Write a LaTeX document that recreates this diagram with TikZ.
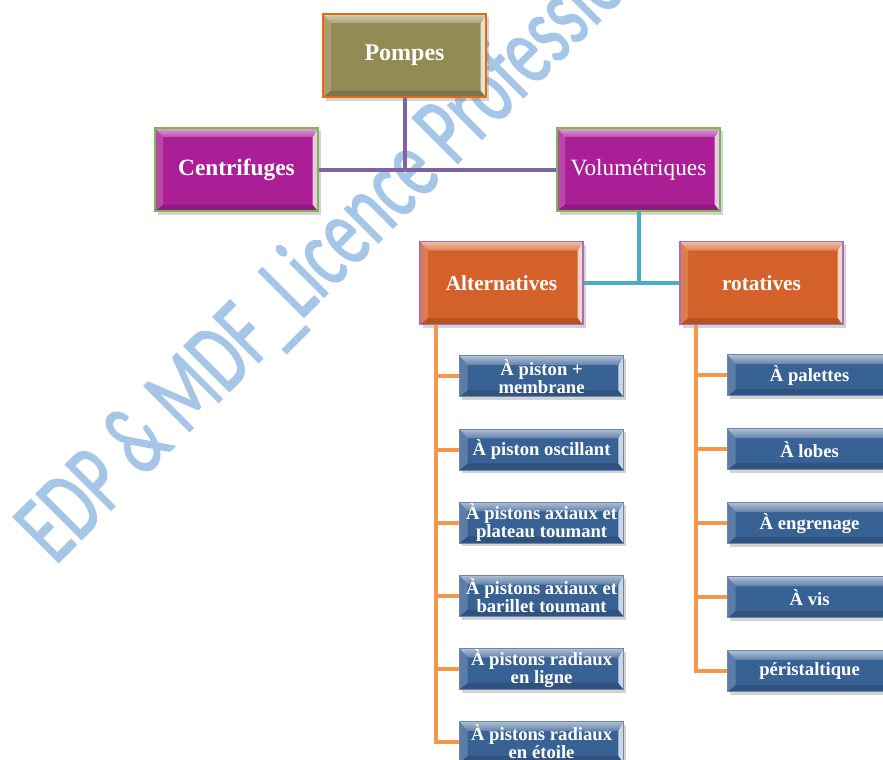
\documentclass[tikz,border=0pt]{standalone}
\usepackage{fontspec}
\setmainfont{Liberation Serif}
\newfontfamily\filigrane[FakeBold=1.6]{Carlito}
\usetikzlibrary{positioning, shadows}

\definecolor{olivefond}{RGB}{148,138,84}
\definecolor{orangebord}{RGB}{228,108,10}
\definecolor{magentafond}{RGB}{170,31,150}
\definecolor{vertbord}{RGB}{119,185,77}
\definecolor{orangefond}{RGB}{212,96,42}
\definecolor{violetbord}{RGB}{168,108,193}
\definecolor{bleufond}{RGB}{56,97,148}
\definecolor{violetlien}{RGB}{128,100,162}
\definecolor{cyanlien}{RGB}{75,172,198}
\definecolor{orangelien}{RGB}{247,150,70}
\definecolor{bleufiligrane}{RGB}{166,198,232}

\begin{document}
\begin{tikzpicture}[x=0.75pt, y=-0.75pt, node distance=23.5pt,
  bevel/.style={fill=#1, path picture={
    \coordinate (bNW) at (path picture bounding box.north west);
    \coordinate (bNE) at (path picture bounding box.north east);
    \coordinate (bSW) at (path picture bounding box.south west);
    \coordinate (bSE) at (path picture bounding box.south east);
    \fill[#1!85!black] (bSW) -- (bSE) -- ([shift={(-4pt,5pt)}]bSE) -- ([shift={(6pt,5pt)}]bSW) -- cycle;
    \fill[#1!82!white] (bNW) -- (bSW) -- ([shift={(6pt,5pt)}]bSW) -- ([shift={(6pt,-7pt)}]bNW) -- cycle;
    \fill[#1!25!white] (bNE) -- (bSE) -- ([shift={(-4pt,5pt)}]bSE) -- ([shift={(-4pt,-7pt)}]bNE) -- cycle;
    \shade[top color=#1!40!white, bottom color=#1!80!white] (bNW) -- (bNE) -- ([shift={(-4pt,-7pt)}]bNE) -- ([shift={(6pt,-7pt)}]bNW) -- cycle;
  }},
  boite/.style={draw, line width=1.2pt, minimum width=122.25pt, minimum height=62.5pt, inner sep=0pt, text=white,
    drop shadow={opacity=0.35, shadow xshift=2pt, shadow yshift=-2.5pt}},
  pompe/.style={boite, bevel=olivefond, draw=orangebord, font=\fontsize{18}{18}\selectfont\bfseries},
  famille/.style={boite, bevel=magentafond, draw=vertbord, font=\fontsize{17.5}{17.5}\selectfont},
  genre/.style={boite, bevel=orangefond, draw=violetbord, font=\fontsize{16}{16}\selectfont\bfseries},
  modele/.style={boite, bevel=bleufond, draw=bleufond!75!white, line width=0.6pt, minimum width=123pt,
    minimum height=30.75pt, align=center, font=\fontsize{14}{13.5}\selectfont\bfseries},
  lienviolet/.style={draw=violetlien, line width=3pt},
  liencyan/.style={draw=cyanlien, line width=3pt},
  lienorange/.style={draw=orangelien, line width=3pt}]
\useasboundingbox (0,0) rectangle (883,760);

\node[rotate=45, xscale=0.67, anchor=base west, inner sep=0pt, text=bleufiligrane,
  font=\filigrane\fontsize{75}{75}\selectfont] (filigrane) at (55,566) {EDP \& MDF\_Licence Professio};

\node[pompe] (pompes) at (404.5,55.5) {Pompes};
\node[famille] (centrifuges) at (236.5,169.5) {\textbf{Centrifuges}};
\node[famille] (volumetriques) at (638.5,169.5) {Volumétriques};
\node[genre] (alternatives) at (501.5,283) {Alternatives};
\node[genre] (rotatives) at (761.5,283) {rotatives};

\node[modele, below right=22.5pt and 30pt of alternatives.south west] (a1) {À piston +\\membrane};
\node[modele, below=of a1] (a2) {À piston oscillant};
\node[modele, below=of a2] (a3) {À pistons axiaux et\\plateau toumant};
\node[modele, below=of a3] (a4) {À pistons axiaux et\\barillet toumant};
\node[modele, below=of a4] (a5) {À pistons radiaux\\en ligne};
\node[modele, below=of a5] (a6) {À pistons radiaux\\en étoile};

\node[modele, below right=21.75pt and 36pt of rotatives.south west] (r1) {À palettes};
\node[modele, below=24.1pt of r1] (r2) {À lobes};
\node[modele, below=24.1pt of r2] (r3) {À engrenage};
\node[modele, below=24.1pt of r3] (r4) {À vis};
\node[modele, below=24.1pt of r4] (r5) {péristaltique};

\draw[lienviolet] (centrifuges) -- (volumetriques);
\draw[lienviolet] (pompes) -- (pompes |- centrifuges);
\draw[liencyan] (alternatives) -- (rotatives);
\draw[liencyan] (volumetriques) -- (volumetriques |- alternatives);

\coordinate (troncA) at ([xshift=12.75pt]alternatives.south west);
\draw[lienorange] (troncA) |- (a6.west);
\draw[lienorange] (troncA |- a1.west) -- (a1.west);
\draw[lienorange] (troncA |- a2.west) -- (a2.west);
\draw[lienorange] (troncA |- a3.west) -- (a3.west);
\draw[lienorange] (troncA |- a4.west) -- (a4.west);
\draw[lienorange] (troncA |- a5.west) -- (a5.west);

\coordinate (troncR) at ([xshift=12.75pt]rotatives.south west);
\draw[lienorange] (troncR) |- (r5.west);
\draw[lienorange] (troncR |- r1.west) -- (r1.west);
\draw[lienorange] (troncR |- r2.west) -- (r2.west);
\draw[lienorange] (troncR |- r3.west) -- (r3.west);
\draw[lienorange] (troncR |- r4.west) -- (r4.west);
\end{tikzpicture}
\end{document}
